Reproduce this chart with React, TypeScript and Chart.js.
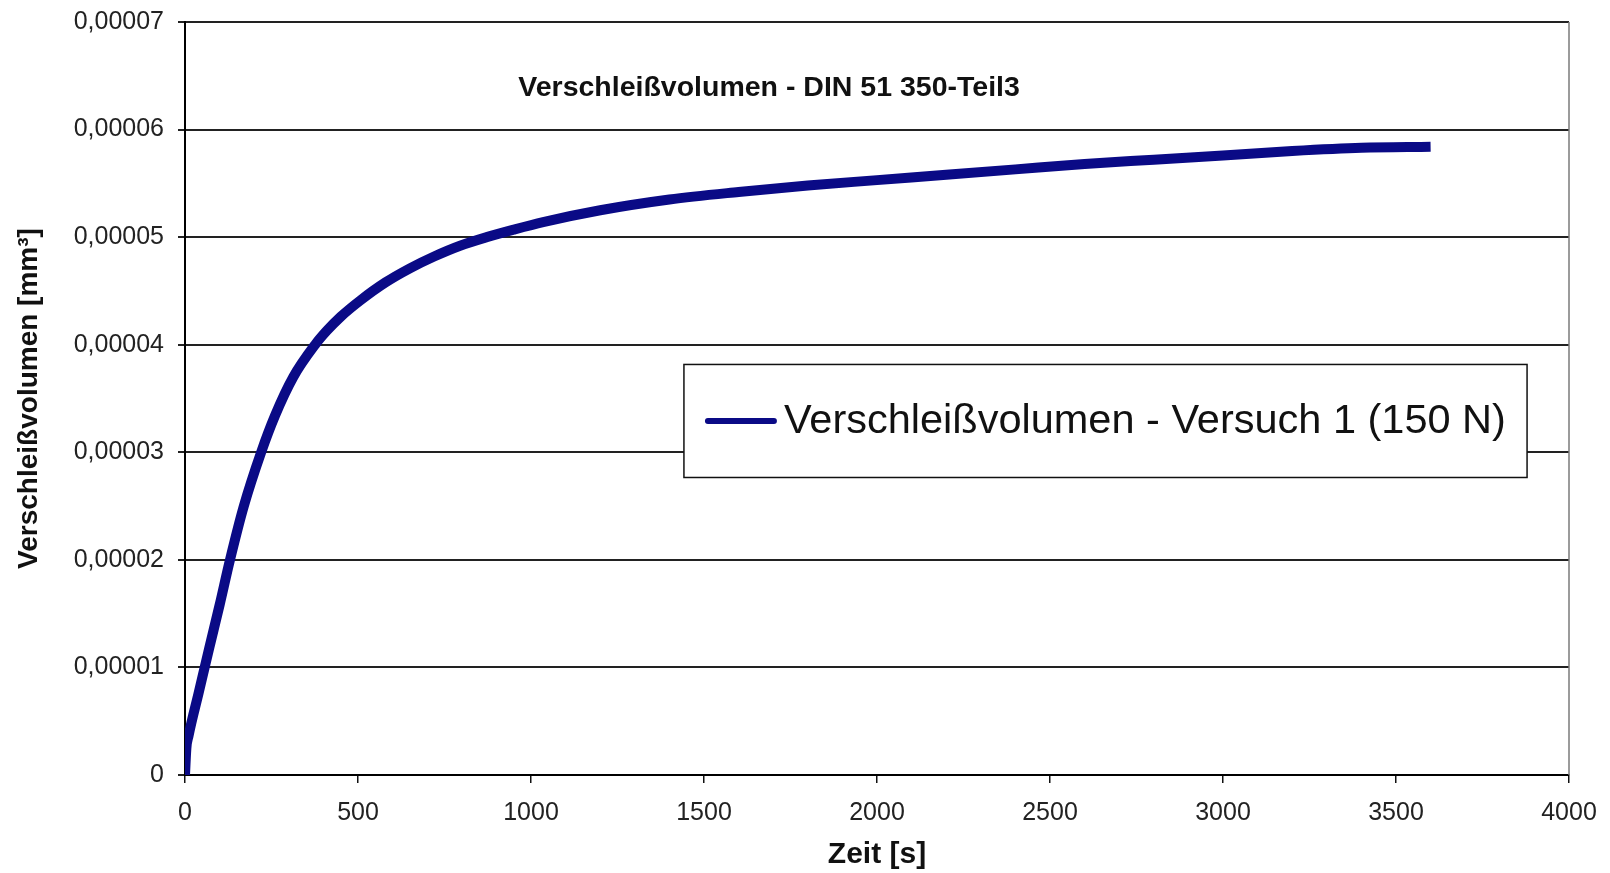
import React, { useEffect, useRef } from 'react';
import { Chart, registerables } from 'chart.js';

Chart.register(...registerables);

// ---- data ----
const timeSeconds = [0, 4, 10, 40, 70, 100, 130, 170, 220, 260, 313, 376, 410, 450, 506, 580, 650, 720, 795, 872, 950, 1035, 1200, 1400, 1600, 1800, 2000, 2200, 2400, 2600, 2800, 3000, 3200, 3400, 3600];
const wearVolume = [0, 0.0000025, 0.0000036, 0.0000077, 0.0000118, 0.0000158, 0.00002, 0.000025, 0.00003, 0.0000334, 0.000037, 0.00004, 0.0000413, 0.0000426, 0.0000441, 0.0000458, 0.0000471, 0.0000482, 0.0000492, 0.00005, 0.0000507, 0.0000514, 0.0000525, 0.0000535, 0.0000542, 0.0000548, 0.0000553, 0.0000558, 0.0000563, 0.0000568, 0.0000572, 0.0000576, 0.000058, 0.0000583, 0.0000584];

const xTickValues = [0, 500, 1000, 1500, 2000, 2500, 3000, 3500, 4000];
const xTickLabels = ['0', '500', '1000', '1500', '2000', '2500', '3000', '3500', '4000'];
const yTickValues = [0, 0.00001, 0.00002, 0.00003, 0.00004, 0.00005, 0.00006, 0.00007];
const yTickLabels = ['0', '0,00001', '0,00002', '0,00003', '0,00004', '0,00005', '0,00006', '0,00007'];

const chartTitle = 'Verschleißvolumen - DIN 51 350-Teil3';
const seriesLabel = 'Verschleißvolumen - Versuch 1 (150 N)';
const xAxisTitle = 'Zeit [s]';
const yAxisTitle = 'Verschleißvolumen [mm³]';

const FONT = "'Liberation Sans', Arial, sans-serif";
const LINE_COLOR = '#0a0a86';

const decorPlugin = {
  id: 'decor',
  afterDraw(chart: any) {
    const { ctx, chartArea } = chart;
    const { left, right, top, bottom } = chartArea;
    const w = right - left;
    const h = bottom - top;
    ctx.save();
    // right frame line
    ctx.strokeStyle = '#7a7a7a';
    ctx.lineWidth = 1.5;
    ctx.beginPath();
    ctx.moveTo(right, top);
    ctx.lineTo(right, bottom);
    ctx.stroke();

    // inner title
    ctx.fillStyle = '#111';
    ctx.font = `bold 28.5px ${FONT}`;
    ctx.textAlign = 'center';
    ctx.textBaseline = 'middle';
    ctx.fillText(chartTitle, left + 0.422 * w, top + 0.0877 * h);

    // legend box
    const bx0 = left + 0.3605 * w;
    const bx1 = left + 0.9697 * w;
    const by0 = top + 0.4548 * h;
    const by1 = top + 0.6049 * h;
    ctx.fillStyle = '#ffffff';
    ctx.fillRect(bx0, by0, bx1 - bx0, by1 - by0);
    ctx.strokeStyle = '#111';
    ctx.lineWidth = 1.5;
    ctx.strokeRect(bx0, by0, bx1 - bx0, by1 - by0);
    const ds = chart.data.datasets[0];
    const cy = (by0 + by1) / 2;
    ctx.strokeStyle = ds.borderColor;
    ctx.lineWidth = 6;
    ctx.lineCap = 'round';
    ctx.beginPath();
    ctx.moveTo(bx0 + 24, cy);
    ctx.lineTo(bx0 + 90, cy);
    ctx.stroke();
    ctx.fillStyle = '#111';
    ctx.font = `41.5px ${FONT}`;
    ctx.textAlign = 'left';
    ctx.textBaseline = 'middle';
    ctx.fillText(ds.label, bx0 + 100, cy + 1);
    ctx.restore();
  },
};

export default function App() {
  const canvasRef = useRef<HTMLCanvasElement | null>(null);

  useEffect(() => {
    const canvas = canvasRef.current;
    if (!canvas) return;
    const points = timeSeconds.map((t, i) => ({ x: t, y: wearVolume[i] }));
    const chart = new Chart(canvas, {
      type: 'line',
      data: {
        datasets: [
          {
            label: seriesLabel,
            data: points,
            borderColor: LINE_COLOR,
            backgroundColor: LINE_COLOR,
            borderWidth: 10,
            pointRadius: 0,
            cubicInterpolationMode: 'monotone',
            fill: false,
          },
        ],
      },
      options: {
        responsive: false,
        animation: false,
        layout: { padding: { left: 0, right: 41, top: 22, bottom: 0 } },
        plugins: {
          legend: { display: false },
          tooltip: { enabled: false },
          title: { display: false },
        },
        scales: {
          x: {
            type: 'linear',
            min: 0,
            max: 4000,
            afterBuildTicks: (s: any) => {
              s.ticks = xTickValues.map((v) => ({ value: v }));
            },
            afterFit: (s: any) => {
              s.height = 98;
              s.paddingLeft = 0;
              s.paddingRight = 0;
            },
            grid: { drawOnChartArea: false, drawTicks: true, tickLength: 8, color: '#111', lineWidth: 1.5 },
            border: { display: true, color: '#000', width: 2 },
            ticks: {
              padding: 15,
              color: '#222',
              maxRotation: 0,
              autoSkip: false,
              font: { family: FONT, size: 25 },
              callback: (_v: any, i: number) => xTickLabels[i],
            },
            title: {
              display: true,
              text: xAxisTitle,
              color: '#111',
              font: { family: FONT, size: 30, weight: 'bold' },
              padding: { top: 0, bottom: 0 },
            },
          },
          y: {
            type: 'linear',
            min: 0,
            max: 0.00007,
            afterBuildTicks: (s: any) => {
              s.ticks = yTickValues.map((v) => ({ value: v }));
            },
            afterFit: (s: any) => {
              s.width = 185;
              s.paddingTop = 0;
              s.paddingBottom = 0;
            },
            grid: { color: '#222', lineWidth: 2, tickLength: 7, drawTicks: true },
            border: { display: true, color: '#000', width: 2 },
            ticks: {
              padding: 14,
              color: '#222',
              font: { family: FONT, size: 25 },
              callback: (_v: any, i: number) => yTickLabels[i],
            },
            title: {
              display: true,
              text: yAxisTitle,
              color: '#111',
              font: { family: FONT, size: 28, weight: 'bold' },
              padding: { top: 12, bottom: 0 },
            },
          },
        },
      },
      plugins: [decorPlugin],
    } as any);
    return () => chart.destroy();
  }, []);

  return (
    <div style={{ position: 'fixed', left: 0, top: 0, width: 1610, height: 873, background: '#fff' }}>
      <canvas ref={canvasRef} width={1610} height={873} style={{ display: 'block' }} />
    </div>
  );
}
